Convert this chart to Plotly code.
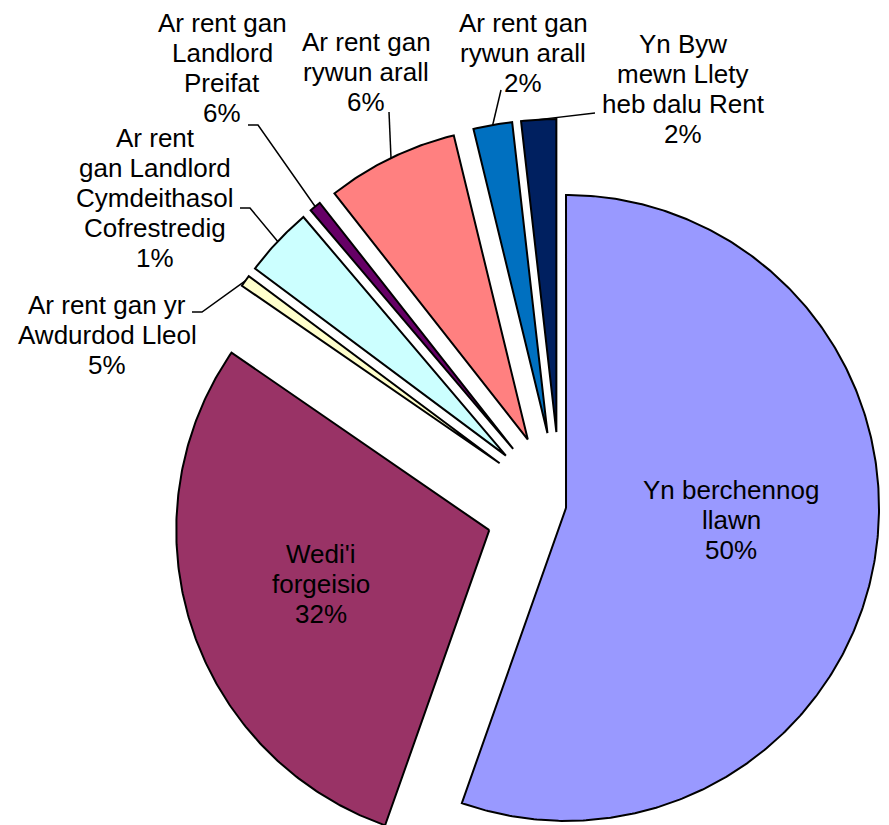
import numpy as np
import plotly.graph_objects as go

# ---------------- data ----------------
categories = [
    "Yn berchennog llawn",
    "Wedi'i forgeisio",
    "Ar rent gan yr Awdurdod Lleol",
    "Ar rent gan Landlord Cymdeithasol Cofrestredig",
    "Ar rent gan Landlord Preifat",
    "Ar rent gan rywun arall",
    "Ar rent gan rywun arall",
    "Yn Byw mewn Llety heb dalu Rent",
]
# slice sizes
values = [55.4, 29.2, 0.6, 3.6, 0.6, 6.8, 2.0, 1.8]
# percentages printed on the chart
shown_pct = [50, 32, 5, 1, 6, 6, 2, 2]
label_lines = [
    ["Yn berchennog", "llawn"],
    ["Wedi'i", "forgeisio"],
    ["Ar rent gan yr", "Awdurdod Lleol"],
    ["Ar rent", "gan Landlord", "Cymdeithasol", "Cofrestredig"],
    ["Ar rent gan", "Landlord", "Preifat"],
    ["Ar rent gan", "rywun arall"],
    ["Ar rent gan", "rywun arall"],
    ["Yn Byw", "mewn Llety", "heb dalu Rent"],
]

# ---------------- style / layout ----------------
W, H = 889, 825
OFF = 8  # page body margin compensation
colors = ["#9999FF", "#993366", "#FFFFCC", "#CCFFFF", "#660066", "#FF8080", "#0070C0", "#002060"]
CX, CY, R = 560.6, 507.0, 313.0
pull_px = [5.5, 75, 75, 75, 75, 75, 75, 75]
FONT = "Liberation Sans, Arial, sans-serif"
FSIZE = 26
LINE_H = 30
# label block: centre x, y of first line
label_pos = [(731, 490), (321, 554), (107, 305), (155, 138), (222, 23), (366, 42), (523, 23), (683, 44)]
# leader line start points (label side), None = no leader
leader_start = [None, None, [(192, 312), (202, 312)], [(240, 208), (250, 208)],
                [(248, 125), (258, 125)], [(389, 112)], [(501, 90)], [(595, 113)]]

fig = go.Figure()

vals = np.array(values, dtype=float)
fr = vals / vals.sum()
ends = np.cumsum(fr) * 360.0
starts = ends - fr * 360.0

anchors = []
for i in range(len(values)):
    a0, a1 = starts[i], ends[i]
    mid = np.radians((a0 + a1) / 2)
    ox = CX + pull_px[i] * np.sin(mid)
    oy = CY - pull_px[i] * np.cos(mid)
    n = max(3, int((a1 - a0) * 2))
    th = np.radians(np.linspace(a0, a1, n))
    xs = np.concatenate([[ox], ox + R * np.sin(th), [ox]])
    ys = np.concatenate([[oy], oy - R * np.cos(th), [oy]])
    fig.add_trace(go.Scatter(
        x=xs, y=ys, mode="lines", fill="toself", fillcolor=colors[i],
        line=dict(color="black", width=2), hoverinfo="skip", name=categories[i],
    ))
    anchors.append((ox + R * np.sin(mid), oy - R * np.cos(mid)))

# leader lines
for i, pts in enumerate(leader_start):
    if pts is None:
        continue
    lx = [p[0] for p in pts] + [anchors[i][0]]
    ly = [p[1] for p in pts] + [anchors[i][1]]
    fig.add_trace(go.Scatter(x=lx, y=ly, mode="lines",
                             line=dict(color="black", width=1.5), hoverinfo="skip"))

# labels
annotations = []
for i, lines in enumerate(label_lines):
    txt = lines + [f"{shown_pct[i]}%"]
    x0, y0 = label_pos[i]
    for k, t in enumerate(txt):
        annotations.append(dict(
            x=x0, y=y0 + k * LINE_H, xref="x", yref="y", text=t, showarrow=False,
            xanchor="center", yanchor="middle",
            font=dict(family=FONT, size=FSIZE, color="black"),
        ))

fig.update_layout(
    width=W, height=H, margin=dict(l=0, r=0, t=0, b=0),
    paper_bgcolor="white", plot_bgcolor="white", showlegend=False,
    xaxis=dict(range=[OFF, W + OFF], visible=False, fixedrange=True),
    yaxis=dict(range=[H + OFF, OFF], visible=False, fixedrange=True),
    annotations=annotations,
)

fig.write_html("out.html")
